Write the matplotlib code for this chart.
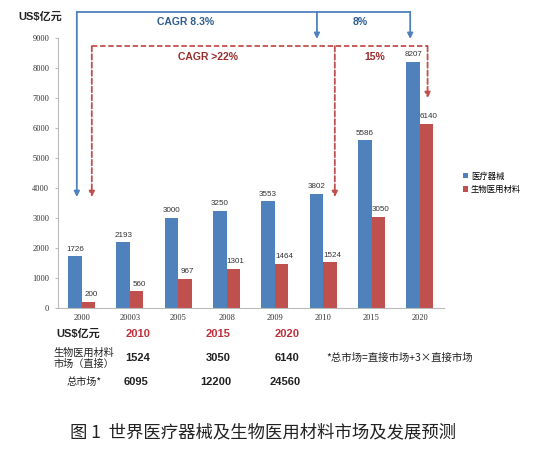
import matplotlib
matplotlib.use('Agg')
import matplotlib.pyplot as plt
import numpy as np

plt.rcParams['font.family'] = ['Liberation Sans', 'Noto Sans CJK SC', 'DejaVu Sans']

# chart data
years = ['2000', '20003', '2005', '2008', '2009', '2010', '2015', '2020']
devices = [1726, 2193, 3000, 3250, 3553, 3802, 5586, 8207]
materials = [200, 560, 967, 1301, 1464, 1524, 3050, 6140]
series_names = ['医疗器械', '生物医用材料']

# table under the chart
table_years = ['2010', '2015', '2020']
table_direct = ['1524', '3050', '6140']
table_total = ['6095', '12200', '24560']

BLUE = '#4F81BD'
RED = '#C0504D'
W, H = 533, 451


def fx(px):
    return px / W


def fy(py):
    return 1 - py / H


fig = plt.figure(figsize=(W / 100, H / 100), dpi=100)
ax = fig.add_axes([fx(57.5), fy(308), (444 - 57.5) / W, 270 / H])

x = np.arange(len(years))
bw = 0.28
b1 = ax.bar(x - bw / 2, devices, bw, color=BLUE, label=series_names[0])
b2 = ax.bar(x + bw / 2, materials, bw, color=RED, label=series_names[1])

for xi, v in zip(x, devices):
    ax.text(xi - bw / 2, v + 120, str(v), ha='center', va='bottom', fontsize=5.8, color='#333333')
for xi, v in zip(x, materials):
    ax.text(xi + bw / 2 + 0.05, v + 120, str(v), ha='center', va='bottom', fontsize=5.8, color='#333333')

ax.set_xlim(-0.5, len(years) - 0.5)
ax.set_ylim(0, 9000)
ax.set_yticks(range(0, 9001, 1000))
ax.set_xticks(x)
ax.set_xticklabels(years, family='Liberation Serif', fontsize=6, color='#333333')
for t in ax.get_yticklabels():
    t.set_family('Liberation Serif')
    t.set_fontsize(6)
    t.set_color('#333333')
ax.tick_params(axis='y', length=2, color='#BBBBBB', pad=4)
ax.tick_params(axis='x', length=0, pad=4)
for s in ['top', 'right']:
    ax.spines[s].set_visible(False)
for s in ['left', 'bottom']:
    ax.spines[s].set_color('#BBBBBB')
    ax.spines[s].set_linewidth(0.8)

# blue CAGR brackets
ytop_b = 9870
ax.plot([-0.10, 6.80], [ytop_b, ytop_b], color=BLUE, lw=1.3, clip_on=False)
for xa, ye in [(-0.10, 3700), (4.87, 8970), (6.80, 8970)]:
    ax.annotate('', xy=(xa, ye), xytext=(xa, ytop_b),
                arrowprops=dict(arrowstyle='-|>', color=BLUE, lw=1.3, mutation_scale=8,
                                shrinkA=0, shrinkB=0),
                annotation_clip=False)

# red dashed brackets
ytop_r = 8730
ax.plot([0.21, 7.16], [ytop_r, ytop_r], color=RED, lw=1.3, ls=(0, (3, 1.5)), clip_on=False)
for xa, ye in [(0.21, 3700), (5.24, 3700), (7.16, 7000)]:
    ax.annotate('', xy=(xa, ye), xytext=(xa, ytop_r),
                arrowprops=dict(arrowstyle='-|>', color=RED, lw=1.3, ls=(0, (3, 1.5)),
                                mutation_scale=8, shrinkA=0, shrinkB=0),
                annotation_clip=False)

fig.text(fx(186), fy(22), 'CAGR 8.3%', ha='center', va='center', fontsize=7.5,
         fontweight='bold', color='#2F5C8F')
fig.text(fx(360), fy(22), '8%', ha='center', va='center', fontsize=7.5,
         fontweight='bold', color='#2F5C8F')
fig.text(fx(208), fy(57), 'CAGR >22%', ha='center', va='center', fontsize=7.5,
         fontweight='bold', color='#9B2C2C')
fig.text(fx(375), fy(57), '15%', ha='center', va='center', fontsize=7.5,
         fontweight='bold', color='#9B2C2C')

fig.text(fx(40), fy(17), 'US$亿元', ha='center', va='center', fontsize=8, fontweight='bold',
         color='#222222')

leg = ax.legend(handles=[b1, b2], loc='upper left', bbox_to_anchor=(fx(455), fy(164)),
                bbox_transform=fig.transFigure, frameon=False,
                handlelength=0.6, handleheight=0.6, handletextpad=0.4, labelspacing=0.55,
                prop={'family': ['Noto Sans CJK SC'], 'size': 6})

# table under the chart
fig.text(fx(78), fy(334), 'US$亿元', ha='center', va='center', fontsize=8, fontweight='bold',
         color='#222222')
fig.text(fx(84), fy(358), '生物医用材料\n市场（直接）', ha='center', va='center', fontsize=7.3,
         family=['Noto Sans CJK SC'], color='#222222', linespacing=1.1)
fig.text(fx(84), fy(382), '总市场*', ha='center', va='center', fontsize=7.3,
         family=['Noto Sans CJK SC', 'DejaVu Sans'], color='#222222')
for cx, yr, d, t in zip([138, 218, 287], table_years, table_direct, table_total):
    fig.text(fx(cx), fy(334), yr, ha='center', va='center', fontsize=8, fontweight='bold',
             color='#C0303A')
    fig.text(fx(cx), fy(358), d, ha='center', va='center', fontsize=8, fontweight='bold',
             color='#222222')
    fig.text(fx(cx - 2), fy(382), t, ha='center', va='center', fontsize=8, fontweight='bold',
             color='#222222')
fig.text(fx(400), fy(358), '*总市场=直接市场+3×直接市场', ha='center', va='center', fontsize=7.5,
         family=['Noto Sans CJK SC', 'DejaVu Sans'], color='#222222')

fig.text(fx(263), fy(432), '图 1  世界医疗器械及生物医用材料市场及发展预测', ha='center', va='center',
         fontsize=12.5, family=['Noto Sans CJK SC', 'DejaVu Sans'], color='#222222')

fig.savefig('out.png', dpi=100)
